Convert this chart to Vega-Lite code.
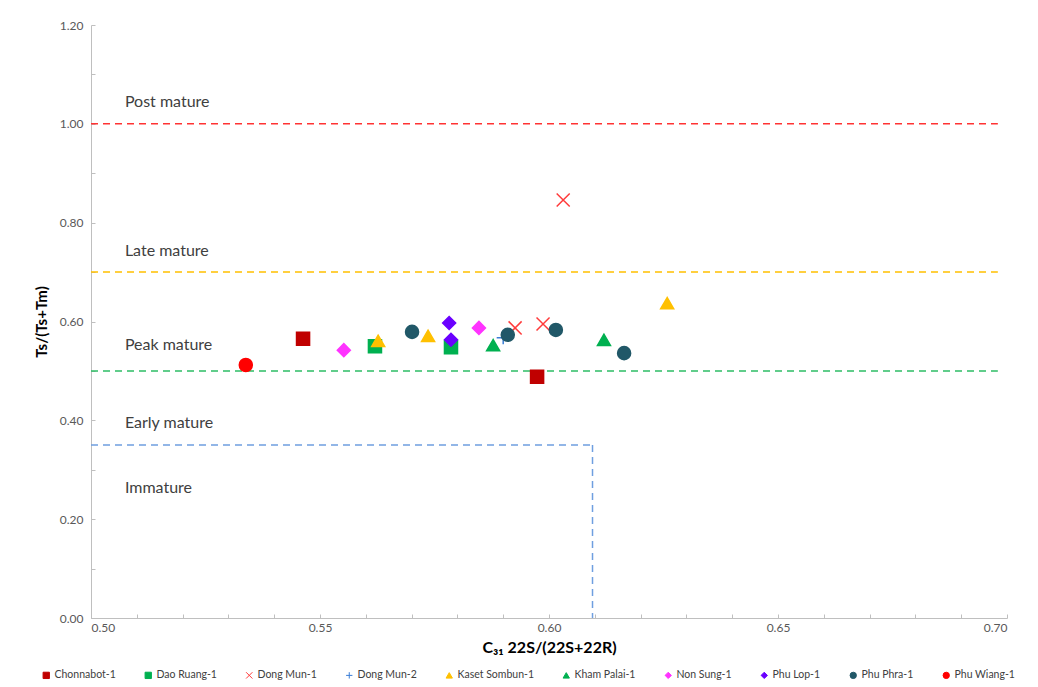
{
  "$schema": "https://vega.github.io/schema/vega-lite/v6.json",
  "width": 916,
  "height": 593,
  "autosize": {"type": "none"},
  "padding": {"left": 91, "top": 25, "right": 31, "bottom": 69},
  "background": "white",
  "config": {
    "view": {"stroke": null},
    "font": "Lato",
    "axis": {
      "grid": false,
      "domainColor": "#bfbfbf",
      "tickColor": "#bfbfbf",
      "labelColor": "#595959",
      "labelFontSize": 12,
      "titleColor": "#000000",
      "titleFontWeight": "bold"
    }
  },
  "datasets": {
    "samples": [
      {"well": "Chonnabot-1", "c31": 0.5463, "tstm": 0.565},
      {"well": "Chonnabot-1", "c31": 0.5974, "tstm": 0.488},
      {"well": "Dao Ruang-1", "c31": 0.562, "tstm": 0.550},
      {"well": "Dao Ruang-1", "c31": 0.5786, "tstm": 0.548},
      {"well": "Dong Mun-1", "c31": 0.5926, "tstm": 0.587},
      {"well": "Dong Mun-1", "c31": 0.5987, "tstm": 0.595},
      {"well": "Dong Mun-1", "c31": 0.6031, "tstm": 0.846},
      {"well": "Dong Mun-2", "c31": 0.5900, "tstm": 0.567},
      {"well": "Kaset Sombun-1", "c31": 0.5627, "tstm": 0.561},
      {"well": "Kaset Sombun-1", "c31": 0.5736, "tstm": 0.571},
      {"well": "Kaset Sombun-1", "c31": 0.6258, "tstm": 0.637},
      {"well": "Kham Palai-1", "c31": 0.5878, "tstm": 0.552},
      {"well": "Kham Palai-1", "c31": 0.6120, "tstm": 0.563},
      {"well": "Non Sung-1", "c31": 0.5552, "tstm": 0.542},
      {"well": "Non Sung-1", "c31": 0.5847, "tstm": 0.587},
      {"well": "Phu Lop-1", "c31": 0.5782, "tstm": 0.597},
      {"well": "Phu Lop-1", "c31": 0.5786, "tstm": 0.563},
      {"well": "Phu Phra-1", "c31": 0.5701, "tstm": 0.579},
      {"well": "Phu Phra-1", "c31": 0.5910, "tstm": 0.573},
      {"well": "Phu Phra-1", "c31": 0.6015, "tstm": 0.583},
      {"well": "Phu Phra-1", "c31": 0.6164, "tstm": 0.536},
      {"well": "Phu Wiang-1", "c31": 0.5338, "tstm": 0.512}
    ],
    "zones": [
      {"zone": "Post mature", "c31": 0.5074, "tstm": 1.044},
      {"zone": "Late mature", "c31": 0.5074, "tstm": 0.743},
      {"zone": "Peak mature", "c31": 0.5074, "tstm": 0.552},
      {"zone": "Early mature", "c31": 0.5074, "tstm": 0.395},
      {"zone": "Immature", "c31": 0.5074, "tstm": 0.263}
    ]
  },
  "layer": [
    {
      "data": {"values": [{}]},
      "mark": {"type": "rule", "stroke": "#ff3333", "strokeWidth": 1.5, "strokeDash": [7, 5]},
      "encoding": {
        "y": {"datum": 1.0, "type": "quantitative"},
        "x": {"datum": 0.5, "type": "quantitative"},
        "x2": {"datum": 0.698}
      }
    },
    {
      "data": {"values": [{}]},
      "mark": {"type": "rule", "stroke": "#ffc000", "strokeWidth": 1.5, "strokeDash": [7, 5]},
      "encoding": {
        "y": {"datum": 0.7, "type": "quantitative"},
        "x": {"datum": 0.5, "type": "quantitative"},
        "x2": {"datum": 0.698}
      }
    },
    {
      "data": {"values": [{}]},
      "mark": {"type": "rule", "stroke": "#2ebd66", "strokeWidth": 1.5, "strokeDash": [7, 5]},
      "encoding": {
        "y": {"datum": 0.5, "type": "quantitative"},
        "x": {"datum": 0.5, "type": "quantitative"},
        "x2": {"datum": 0.698}
      }
    },
    {
      "data": {"values": [{}]},
      "mark": {"type": "rule", "stroke": "#6f9fe0", "strokeWidth": 1.5, "strokeDash": [7, 5]},
      "encoding": {
        "y": {"datum": 0.35, "type": "quantitative"},
        "x": {"datum": 0.5, "type": "quantitative"},
        "x2": {"datum": 0.6095}
      }
    },
    {
      "data": {"values": [{}]},
      "mark": {"type": "rule", "stroke": "#6f9fe0", "strokeWidth": 1.5, "strokeDash": [7, 5]},
      "encoding": {
        "x": {"datum": 0.6095, "type": "quantitative"},
        "y": {"datum": 0.35, "type": "quantitative"},
        "y2": {"datum": 0}
      }
    },
    {
      "data": {"name": "zones"},
      "mark": {"type": "text", "align": "left", "baseline": "middle", "fontSize": 16, "color": "#404040"},
      "encoding": {
        "x": {"field": "c31", "type": "quantitative"},
        "y": {"field": "tstm", "type": "quantitative"},
        "text": {"field": "zone"}
      }
    },
    {
      "data": {"name": "samples"},
      "mark": {"type": "point", "filled": true, "opacity": 1, "strokeWidth": 1.5, "size": 170},
      "encoding": {
        "x": {
          "field": "c31",
          "type": "quantitative",
          "scale": {"domain": [0.5, 0.7], "nice": false, "zero": false},
          "axis": {
            "title": "C₃₁ 22S/(22S+22R)",
            "titleFontSize": 16,
            "titlePadding": 6,
            "values": [0.5, 0.51, 0.52, 0.53, 0.54, 0.55, 0.56, 0.57, 0.58, 0.59, 0.6, 0.61, 0.62, 0.63, 0.64, 0.65, 0.66, 0.67, 0.68, 0.69, 0.7],
            "labelExpr": "abs(datum.value*20 - round(datum.value*20)) < 0.001 ? format(datum.value, '.2f') : ''",
            "tickSize": -4,
            "labelPadding": 8
          }
        },
        "y": {
          "field": "tstm",
          "type": "quantitative",
          "scale": {"domain": [0, 1.2], "nice": false},
          "axis": {
            "title": "Ts/(Ts+Tm)",
            "titleFontSize": 15,
            "titlePadding": 10,
            "values": [0, 0.05, 0.1, 0.15, 0.2, 0.25, 0.3, 0.35, 0.4, 0.45, 0.5, 0.55, 0.6, 0.65, 0.7, 0.75, 0.8, 0.85, 0.9, 0.95, 1.0, 1.05, 1.1, 1.15, 1.2],
            "labelExpr": "abs(datum.value*5 - round(datum.value*5)) < 0.001 ? format(datum.value, '.2f') : ''",
            "tickSize": -4,
            "labelPadding": 12
          }
        },
        "color": {
          "field": "well",
          "type": "nominal",
          "scale": {
            "domain": ["Chonnabot-1", "Dao Ruang-1", "Dong Mun-1", "Dong Mun-2", "Kaset Sombun-1", "Kham Palai-1", "Non Sung-1", "Phu Lop-1", "Phu Phra-1", "Phu Wiang-1"],
            "range": ["#c00000", "#00b050", "#ff3b3b", "#3a7dd6", "#ffc000", "#00b050", "#ff33ff", "#6a00ff", "#215868", "#ff0000"]
          },
          "legend": {
            "title": null,
            "orient": "none",
            "legendX": -50,
            "legendY": 645,
            "direction": "horizontal",
            "columns": 10,
            "columnPadding": 27,
            "symbolSize": 40,
            "symbolStrokeWidth": 1,
            "labelFontSize": 10.5,
            "labelColor": "#404040",
            "labelOffset": 3
          }
        },
        "stroke": {
          "field": "well",
          "type": "nominal",
          "scale": {
            "domain": ["Chonnabot-1", "Dao Ruang-1", "Dong Mun-1", "Dong Mun-2", "Kaset Sombun-1", "Kham Palai-1", "Non Sung-1", "Phu Lop-1", "Phu Phra-1", "Phu Wiang-1"],
            "range": ["#c00000", "#00b050", "#ff3b3b", "#3a7dd6", "#ffc000", "#00b050", "#ff33ff", "#6a00ff", "#215868", "#ff0000"]
          }
        },
        "shape": {
          "field": "well",
          "type": "nominal",
          "scale": {
            "domain": ["Chonnabot-1", "Dao Ruang-1", "Dong Mun-1", "Dong Mun-2", "Kaset Sombun-1", "Kham Palai-1", "Non Sung-1", "Phu Lop-1", "Phu Phra-1", "Phu Wiang-1"],
            "range": ["square", "square", "M-1,-1L1,1M1,-1L-1,1", "M-1,0L1,0M0,-1L0,1", "triangle-up", "triangle-up", "diamond", "diamond", "circle", "circle"]
          }
        }
      }
    }
  ]
}
